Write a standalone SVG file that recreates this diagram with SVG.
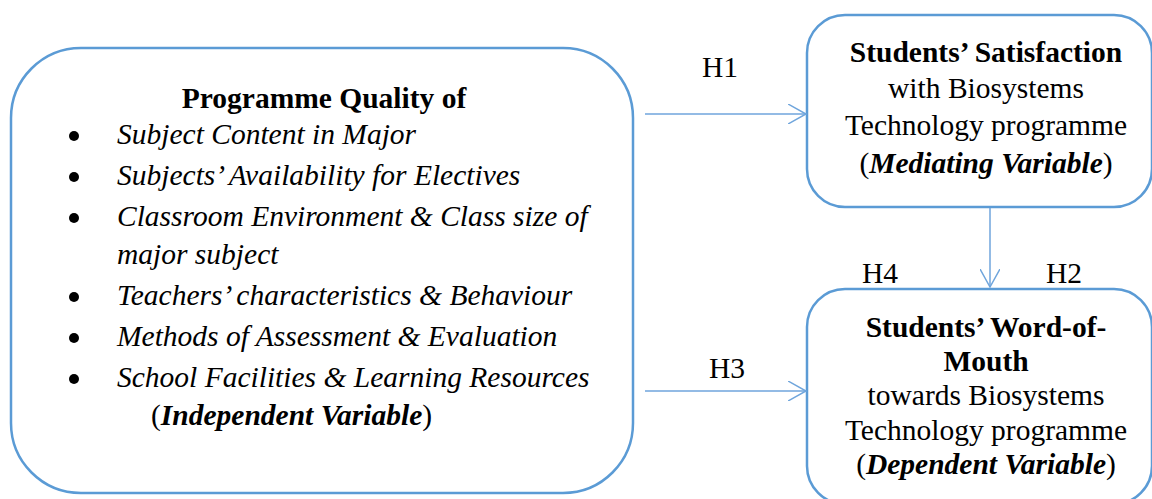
<svg xmlns="http://www.w3.org/2000/svg" width="1152" height="499" viewBox="0 0 1152 499">
  <style>
    text { font-family: "Liberation Serif", "Times New Roman", serif; font-size: 29.5px; fill: #000; }
    .c { text-anchor: middle; }
    .b { font-weight: bold; }
    .i { font-style: italic; }
    .bi { font-weight: bold; font-style: italic; }
    .box { fill: #fff; stroke: #5B9BD5; stroke-width: 2.5; }
    .link { fill: none; stroke: #6FA5DC; stroke-width: 1.5; }
  </style>
  <defs>
    <marker id="open-arrow" viewBox="0 0 20 20" refX="18" refY="10" markerWidth="20" markerHeight="20" markerUnits="userSpaceOnUse" orient="auto">
      <path d="M0,0 L18,10 L0,20" fill="none" stroke="#6FA5DC" stroke-width="1.5"/>
    </marker>
  </defs>

  <rect width="1152" height="499" fill="#fff"/>

  <!-- Independent variable: programme quality -->
  <g id="programme-quality">
    <rect class="box" x="11" y="48" width="622" height="445" rx="70" ry="70"/>
    <text class="c b" x="324" y="108">Programme Quality of</text>
    <g fill="#000">
      <circle cx="74" cy="136" r="5"/>
      <circle cx="74" cy="177" r="5"/>
      <circle cx="74" cy="218" r="5"/>
      <circle cx="74" cy="297" r="5"/>
      <circle cx="74" cy="338" r="5"/>
      <circle cx="74" cy="379" r="5"/>
    </g>
    <text class="i" x="117" y="144">Subject Content in Major</text>
    <text class="i" x="117" y="185">Subjects’ Availability for Electives</text>
    <text class="i" x="117" y="226">Classroom Environment &amp; Class size of</text>
    <text class="i" x="117" y="264">major subject</text>
    <text class="i" x="117" y="305">Teachers’ characteristics &amp; Behaviour</text>
    <text class="i" x="117" y="346">Methods of Assessment &amp; Evaluation</text>
    <text class="i" x="117" y="387">School Facilities &amp; Learning Resources</text>
    <text x="151" y="425">(<tspan class="bi">Independent Variable</tspan>)</text>
  </g>

  <!-- Mediating variable: satisfaction -->
  <g id="satisfaction">
    <rect class="box" x="807" y="15" width="345" height="192" rx="38" ry="38"/>
    <text class="c b" x="986" y="62">Students’ Satisfaction</text>
    <text class="c" x="986" y="98">with Biosystems</text>
    <text class="c" x="986" y="135">Technology programme</text>
    <text class="c" x="986" y="173">(<tspan class="bi">Mediating Variable</tspan>)</text>
  </g>

  <!-- Dependent variable: word-of-mouth -->
  <g id="word-of-mouth">
    <rect class="box" x="807" y="289" width="345" height="215" rx="38" ry="38"/>
    <text class="c b" x="986" y="337">Students’ Word-of-</text>
    <text class="c b" x="986" y="371">Mouth</text>
    <text class="c" x="986" y="405">towards Biosystems</text>
    <text class="c" x="986" y="440">Technology programme</text>
    <text class="c" x="986" y="474">(<tspan class="bi">Dependent Variable</tspan>)</text>
  </g>

  <!-- Hypothesised paths -->
  <g id="connectors">
    <line class="link" x1="645" y1="114" x2="806" y2="114" marker-end="url(#open-arrow)"/>
    <line class="link" x1="645" y1="391" x2="806" y2="391" marker-end="url(#open-arrow)"/>
    <line class="link" x1="990" y1="208" x2="990" y2="287" marker-end="url(#open-arrow)"/>
    <text class="c" x="720" y="77">H1</text>
    <text class="c" x="727" y="378">H3</text>
    <text class="c" x="880" y="283">H4</text>
    <text class="c" x="1064" y="283">H2</text>
  </g>
</svg>
